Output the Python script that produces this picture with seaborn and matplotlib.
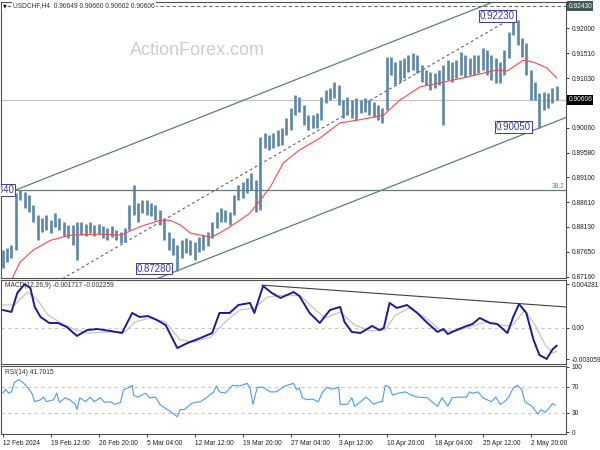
import numpy as np
import matplotlib
matplotlib.use("Agg")
import matplotlib.pyplot as plt
import seaborn as sns

# USDCHF H4, every 3rd bar (bar index on x), 12 Feb - 7 May 2024
bar_hi = [
    0.8768, 0.8772, 0.8778, 0.8879, 0.8884, 0.8881, 0.8875, 0.8856, 0.8836, 0.8830,
    0.8836, 0.8827, 0.8840, 0.8830, 0.8823, 0.8817, 0.8817, 0.8823, 0.8823, 0.8819,
    0.8823, 0.8817, 0.8819, 0.8815, 0.8811, 0.8815, 0.8807, 0.8803, 0.8811, 0.8856,
    0.8895, 0.8860, 0.8865, 0.8865, 0.8860, 0.8856, 0.8846, 0.8830, 0.8803, 0.8791,
    0.8778, 0.8788, 0.8791, 0.8788, 0.8784, 0.8793, 0.8797, 0.8803, 0.8823, 0.8842,
    0.8850, 0.8846, 0.8842, 0.8875, 0.8895, 0.8900, 0.8908, 0.8918, 0.8904, 0.8988,
    0.8996, 0.8992, 0.8996, 0.9002, 0.9006, 0.9025, 0.9045, 0.9070, 0.9066, 0.9051,
    0.9031, 0.9031, 0.9035, 0.9066, 0.9080, 0.9084, 0.9095, 0.9089, 0.9060, 0.9066,
    0.9060, 0.9064, 0.9060, 0.9064, 0.9060, 0.9056, 0.9051, 0.9045, 0.9144, 0.9144,
    0.9134, 0.9138, 0.9142, 0.9148, 0.9152, 0.9148, 0.9128, 0.9119, 0.9115, 0.9113,
    0.9119, 0.9128, 0.9138, 0.9134, 0.9138, 0.9154, 0.9148, 0.9142, 0.9148, 0.9148,
    0.9162, 0.9158, 0.9148, 0.9142, 0.9134, 0.9158, 0.9193, 0.9223, 0.9216, 0.9181,
    0.9171, 0.9119, 0.9095, 0.9074, 0.9076, 0.9074, 0.9084, 0.9088,
]
bar_lo = [
    0.8733, 0.8745, 0.8752, 0.8768, 0.8865, 0.8850, 0.8842, 0.8823, 0.8788, 0.8803,
    0.8807, 0.8801, 0.8813, 0.8807, 0.8795, 0.8791, 0.8778, 0.8749, 0.8797, 0.8795,
    0.8801, 0.8795, 0.8799, 0.8791, 0.8788, 0.8793, 0.8788, 0.8782, 0.8784, 0.8807,
    0.8836, 0.8823, 0.8840, 0.8836, 0.8834, 0.8827, 0.8817, 0.8788, 0.8768, 0.8758,
    0.8728, 0.8752, 0.8762, 0.8758, 0.8749, 0.8764, 0.8768, 0.8776, 0.8791, 0.8811,
    0.8823, 0.8823, 0.8817, 0.8836, 0.8865, 0.8869, 0.8879, 0.8885, 0.8842, 0.8846,
    0.8967, 0.8963, 0.8967, 0.8971, 0.8973, 0.8992, 0.9002, 0.9031, 0.9037, 0.9012,
    0.9002, 0.9006, 0.9006, 0.9021, 0.9054, 0.9060, 0.9064, 0.9051, 0.9025, 0.9031,
    0.9025, 0.9021, 0.9035, 0.9037, 0.9031, 0.9027, 0.9021, 0.9015, 0.9041, 0.9109,
    0.9090, 0.9095, 0.9103, 0.9115, 0.9119, 0.9113, 0.9095, 0.9089, 0.9080, 0.9084,
    0.9089, 0.9012, 0.9099, 0.9095, 0.9103, 0.9109, 0.9105, 0.9109, 0.9109, 0.9113,
    0.9119, 0.9109, 0.9099, 0.9093, 0.9093, 0.9109, 0.9142, 0.9187, 0.9168, 0.9144,
    0.9109, 0.9060, 0.9060, 0.9005, 0.9041, 0.9045, 0.9054, 0.9060,
]
bar_idx = np.arange(0, 3 * len(bar_hi), 3)

# red moving average
ma_bar = [4, 7, 12, 21, 33, 46, 67, 81, 94, 108, 115, 122, 129, 136, 143, 149, 156, 163,
          170, 177, 184, 193, 204, 218, 232, 244, 262, 273, 287, 303, 319, 340, 347, 358,
          365, 374, 381]
ma_val = [0.8690, 0.8716, 0.8745, 0.8768, 0.8787, 0.8797, 0.8799, 0.8797, 0.8813, 0.8826,
          0.8826, 0.8817, 0.8801, 0.8797, 0.8793, 0.8801, 0.8813, 0.8826, 0.8840, 0.8865,
          0.8891, 0.8938, 0.8963, 0.8986, 0.9016, 0.9021, 0.9031, 0.9060, 0.9086, 0.9095,
          0.9105, 0.9119, 0.9117, 0.9138, 0.9134, 0.9123, 0.9103]

# trend lines drawn on the chart
chan_up_bar, chan_up_val = [8, 345], [0.8884, 0.9260]
chan_lo_bar, chan_lo_val = [106, 388], [0.8712, 0.9027]
mid_bar, mid_val = [41, 352], [0.8712, 0.9223]
fib_level = 0.8884
last_price = 0.90606
top_level = 0.9243

# marked highs / lows
mark_bar = [340, 351, 104, -4]
mark_val = [0.9224, 0.9007, 0.8732, 0.8885]
mark_text = ["0.92230", "0.90050", "0.87280", "0.88840"]

price_ticks = [0.92000, 0.91510, 0.91030, 0.90060, 0.89580, 0.89100, 0.88610, 0.88130,
               0.87650, 0.87160]

# MACD(12,26,9)
macd_bar = [0, 6, 10, 15, 19, 22, 26, 32, 38, 44,
            51, 58, 65, 74, 82, 89, 94, 100, 106, 112,
            120, 127, 136, 144, 149, 156, 162, 170, 173, 179,
            185, 191, 200, 204, 211, 218, 225, 232, 235, 240,
            246, 254, 259, 262, 266, 271, 278, 285, 292, 299,
            303, 306, 312, 319, 323, 328, 335, 340, 347, 351,
            355, 360, 365, 369, 374, 378, 381]
macd_val = [0.00176, 0.00157, 0.00343, 0.00428, 0.00391, 0.00206, 0.00108, 0.00049, 0.00049, 0.00010,
            -0.00078, -0.00020, -0.00010, -0.00029, -0.00049, 0.00147, 0.00108, 0.00117, 0.00078, 0.00029,
            -0.00196, -0.00147, -0.00098, -0.00049, 0.00147, 0.00147, 0.00225, 0.00245, 0.00147, 0.00411,
            0.00343, 0.00294, 0.00352, 0.00313, 0.00147, 0.00049, 0.00176, 0.00206, 0.00059, -0.00039,
            -0.00049, 0.00020, -0.00020, 0.00000, 0.00245, 0.00196, 0.00225, 0.00147, 0.00049, -0.00039,
            -0.00010, -0.00059, -0.00020, 0.00020, 0.00039, 0.00098, 0.00049, 0.00039, -0.00049, 0.00108,
            0.00235, 0.00147, -0.00117, -0.00264, -0.00303, -0.00210, -0.00172]
sig_bar = [0, 8, 17, 24, 31, 39, 50, 60, 74, 84, 91, 101, 112, 122, 132, 143, 153, 163, 173, 182,
           194, 205, 215, 222, 232, 242, 253, 263, 270, 280, 290, 301, 311, 321, 332, 342, 350, 359,
           366, 373, 378, 381]
sig_val = [0.00225, 0.00225, 0.00352, 0.00274, 0.00127, 0.00059, -0.00020, -0.00049, -0.00039, -0.00039,
           0.00059, 0.00098, 0.00059, -0.00117, -0.00137, -0.00088, 0.00059, 0.00176, 0.00196, 0.00303,
           0.00323, 0.00313, 0.00176, 0.00098, 0.00157, 0.00029, -0.00029, -0.00020, 0.00127, 0.00196,
           0.00108, -0.00020, -0.00029, 0.00010, 0.00059, 0.00029, 0.00020, 0.00176, 0.00029, -0.00166,
           -0.00245, -0.00226]
macd_tl_bar, macd_tl_val = [178, 388], [0.00420, 0.00205]

# RSI(14)
rsi_bar = [0, 2, 4, 6, 8, 11, 14, 17, 20, 22, 26, 28, 30, 35, 37, 39, 43, 46, 50, 51,
           53, 57, 60, 63, 67, 70, 74, 77, 81, 83, 86, 89, 90, 93, 98, 101, 105, 108, 113, 116,
           120, 122, 125, 129, 132, 136, 140, 145, 147, 149, 153, 158, 163, 168, 170, 172, 175, 179, 184, 188,
           194, 200, 202, 204, 206, 209, 213, 217, 220, 223, 226, 231, 232, 237, 240, 242, 246, 250, 255, 259,
           261, 263, 266, 268, 272, 277, 281, 285, 292, 295, 299, 302, 306, 309, 313, 319, 321, 323, 327, 330,
           333, 336, 339, 342, 345, 348, 351, 354, 357, 359, 364, 368, 370, 373, 376, 378, 380]
rsi_val = [60, 66, 60, 62, 76, 81, 76, 69, 60, 47, 50, 54, 47, 50, 60, 46, 53, 50, 43, 35,
           53, 47, 54, 47, 53, 46, 47, 43, 46, 65, 68, 72, 57, 54, 60, 53, 54, 43, 35, 31,
           24, 35, 35, 43, 46, 47, 53, 62, 71, 62, 60, 72, 71, 75, 68, 43, 69, 69, 62, 62,
           71, 75, 65, 68, 53, 50, 51, 47, 62, 69, 66, 69, 43, 43, 53, 40, 47, 54, 43, 47,
           47, 72, 69, 57, 60, 62, 57, 54, 53, 47, 40, 53, 40, 53, 54, 54, 62, 60, 62, 53,
           50, 47, 54, 43, 47, 54, 68, 72, 65, 47, 40, 28, 35, 31, 38, 44, 41.7]

date_ticks = [0, 33, 66, 99, 132, 165, 198, 231, 264, 297, 330, 363]
date_labels = ["12 Feb 2024", "19 Feb 12:00", "26 Feb 20:00", "5 Mar 04:00", "12 Mar 12:00",
               "19 Mar 20:00", "27 Mar 04:00", "3 Apr 12:00", "10 Apr 20:00", "18 Apr 04:00",
               "25 Apr 12:00", "2 May 20:00"]

sns.set_theme(style="white")
plt.rcParams["font.family"] = ["Liberation Sans", "DejaVu Sans"]

FS = 4.8
SPINE = "#505050"
SLATE = "#5f7d7d"

fig = plt.figure(figsize=(6, 4.5), dpi=100)
fig.patch.set_facecolor("white")


def px_axes(left, top, right, bottom):
    return fig.add_axes([left / 600, 1 - bottom / 450, (right - left) / 600, (bottom - top) / 450])


ax = px_axes(1, 2, 566, 278)
ax_m = px_axes(1, 279.5, 566, 364)
ax_r = px_axes(1, 366, 566, 434)

for a in (ax, ax_m, ax_r):
    a.set_xlim(-1.2, 387.3)
    a.set_facecolor("white")
    for s in a.spines.values():
        s.set_color(SPINE)
        s.set_linewidth(0.8)
    a.yaxis.tick_right()
    a.tick_params(axis="y", right=True, left=False, direction="out", length=2.5, width=0.6,
                  pad=1.5, labelsize=FS, colors="#202020")

# ---- price panel ----
ax.text(0.228, 0.808, "ActionForex.com", transform=ax.transAxes, fontsize=13,
        color="#cdcdcd", va="baseline", ha="left")
ax.axhline(last_price, color="#c4c4c4", lw=0.9)
ax.axhline(fib_level, color=SLATE, lw=0.9)
ax.axhline(top_level, color="#556a6a", lw=0.8, ls=(0, (3, 2.5)))
sns.lineplot(x=chan_up_bar, y=chan_up_val, ax=ax, color=SLATE, linewidth=0.9)
sns.lineplot(x=chan_lo_bar, y=chan_lo_val, ax=ax, color=SLATE, linewidth=0.9)
sns.lineplot(x=mid_bar, y=mid_val, ax=ax, color="#606060", linewidth=0.8, linestyle=(0, (2.5, 2.5)))
ax.vlines(bar_idx, bar_lo, bar_hi, color="#5b87a6", linewidth=1.9)
sns.lineplot(x=ma_bar, y=ma_val, ax=ax, color="#ff4848", linewidth=0.8)
ax.set_xlim(-1.2, 387.3)
ax.set_ylim(0.87135, 0.92513)
ax.set_xlabel("")
ax.set_ylabel("")

for b, v, t in zip(mark_bar, mark_val, mark_text):
    ax.text(b, v, t, fontsize=7, color="#3a3aa8", ha="center", va="center", clip_on=True,
            bbox=dict(boxstyle="square,pad=0.1", fc="white", ec="#3a3aa8", lw=0.7))

ax.text(0.997, fib_level, "38.2", transform=ax.get_yaxis_transform(), ha="right", va="bottom",
        fontsize=FS, color="#708585")
ax.text(0.003, 0.986, "\u25bc", transform=ax.transAxes, fontsize=3.5, color="black",
        ha="left", va="center", family="DejaVu Sans",
        bbox=dict(boxstyle="square,pad=0.1", fc="white", ec="none"))
ax.text(0.021, 0.986, "USDCHF,H4  0.90649 0.90660 0.90602 0.90606", transform=ax.transAxes,
        fontsize=FS, color="#303030", ha="left", va="center",
        bbox=dict(boxstyle="square,pad=0.15", fc="white", ec="none"))

ax.set_yticks(price_ticks)
ax.set_yticklabels([f"{v:.5f}" for v in price_ticks])
ax.set_xticks([])
ytr = ax.get_yaxis_transform()
ax.text(1.004, top_level, f"{top_level:.5f}", transform=ytr, ha="left", va="center", fontsize=FS,
        color="white", clip_on=False,
        bbox=dict(boxstyle="square,pad=0.2", fc="#3e5757", ec="none"))
ax.text(1.004, last_price, f"{last_price:.5f}", transform=ytr, ha="left", va="center", fontsize=FS,
        color="white", clip_on=False,
        bbox=dict(boxstyle="square,pad=0.2", fc="black", ec="none"))

# ---- MACD panel ----
ax_m.axhline(0, color="#c8c8c8", lw=0.8, ls=(0, (3, 3)))
sns.lineplot(x=sig_bar, y=sig_val, ax=ax_m, color="#c4c4c4", linewidth=0.9)
sns.lineplot(x=macd_bar, y=macd_val, ax=ax_m, color="#1c1c96", linewidth=1.4)
sns.lineplot(x=macd_tl_bar, y=macd_tl_val, ax=ax_m, color="#404040", linewidth=0.8)
ax_m.set_xlim(-1.2, 387.3)
ax_m.set_ylim(-0.003523, 0.004746)
ax_m.set_yticks([0.004281, 0.0, -0.003059])
ax_m.set_yticklabels(["0.004281", "0.00", "-0.003059"])
ax_m.set_xticks([])
ax_m.set_xlabel("")
ax_m.set_ylabel("")
ax_m.text(0.007, 0.93, "MACD(12,26,9) -0.001717 -0.002259", transform=ax_m.transAxes,
          fontsize=FS, color="#303030", ha="left", va="center")

# ---- RSI panel ----
ax_r.axhline(70, color="#c8c8c8", lw=0.8, ls=(0, (3, 3)))
ax_r.axhline(30, color="#c8c8c8", lw=0.8, ls=(0, (3, 3)))
sns.lineplot(x=rsi_bar, y=rsi_val, ax=ax_r, color="#4a9cf0", linewidth=0.8)
ax_r.set_xlim(-1.2, 387.3)
ax_r.set_ylim(-2.3, 101.5)
ax_r.set_yticks([100, 70, 30, 0])
ax_r.set_yticklabels(["100", "70", "30", "0"])
ax_r.text(0.007, 0.9, "RSI(14) 41.7015", transform=ax_r.transAxes,
          fontsize=FS, color="#303030", ha="left", va="center")
ax_r.set_xticks(date_ticks)
ax_r.set_xticklabels(date_labels, ha="left")
ax_r.tick_params(axis="x", bottom=True, direction="out", length=2.5, width=0.6, pad=1.5,
                 labelsize=FS, colors="#202020")
ax_r.set_xlabel("")
ax_r.set_ylabel("")

fig.savefig("out.png", dpi=100, facecolor="white")
